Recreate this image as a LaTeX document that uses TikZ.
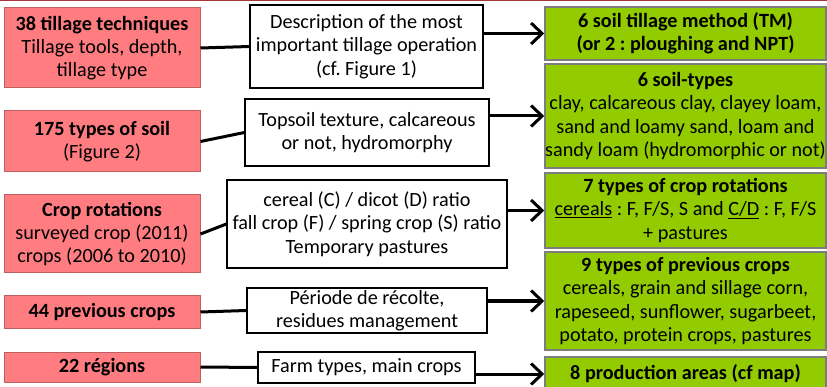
\documentclass[tikz,border=0pt]{standalone}
\usepackage{fontspec}
\setmainfont{Carlito}
\frenchspacing
\usepackage{tikz}
\usetikzlibrary{arrows.meta}

\definecolor{redfill}{RGB}{255,125,128}
\definecolor{redline}{RGB}{190,95,95}
\definecolor{greenfill}{RGB}{146,204,0}
\definecolor{greenline}{RGB}{125,125,125}
\definecolor{topline}{RGB}{165,55,60}

\tikzset{
  every node/.style={font=\fontsize{20.2}{23.3}\selectfont, align=center, inner sep=0pt},
  redbox/.style={draw=redline, fill=redfill, line width=1pt},
  whitebox/.style={draw=black, fill=white, line width=1.2pt},
  greenbox/.style={draw=greenline, fill=greenfill, line width=1.5pt},
  link/.style={line width=3pt},
  flow/.style={line width=3pt, -{Straight Barb[length=11pt,width=21pt]}}
}

\begin{document}
\begin{tikzpicture}[x=1pt, y=-1pt]
		\useasboundingbox (0,0) rectangle (827,387);
		\draw[topline, line width=1.5pt] (0,0.75) -- (827,0.75);
		% left column
		\node[redbox, minimum width=196pt, minimum height=80pt] (r1) at (102,48) {\textbf{38 tillage techniques}\\Tillage tools, depth,\\tillage type};
		\node[redbox, minimum width=196pt, minimum height=61pt] (r2) at (102,141.5) {\textbf{175 types of soil}\\(Figure 2)};
		\node[redbox, minimum width=196pt, minimum height=78pt] (r3) at (102,234) {\textbf{Crop rotations}\\surveyed crop (2011)\\crops (2006 to 2010)};
		\node[redbox, minimum width=196pt, minimum height=32pt] (r4) at (102,312) {\textbf{44 previous crops}};
		\node[redbox, minimum width=196pt, minimum height=30pt] (r5) at (102,367) {\textbf{22 régions}};
		% middle column
		\node[whitebox, minimum width=233pt, minimum height=83pt] (w1) at (366.5,46.5) {Description of the most\\important tillage operation\\(cf. Figure 1)};
		\node[whitebox, minimum width=244pt, minimum height=67pt] (w2) at (367,132.5) {Topsoil texture, calcareous\\or not, hydromorphy};
		\node[whitebox, minimum width=280pt, minimum height=88pt] (w3) at (367,224) {cereal (C) / dicot (D) ratio\\fall crop (F) / spring crop (S) ratio\\Temporary pastures};
		\node[whitebox, minimum width=240pt, minimum height=45pt] (w4) at (367,310.5) {Période de récolte,\\residues management};
		\node[whitebox, minimum width=217pt, minimum height=31pt] (w5) at (366.5,367.5) {Farm types, main crops};
		% right column
		\node[greenbox, minimum width=281pt, minimum height=53pt] (g1) at (685.5,33.5) {\textbf{6 soil tillage method (TM)}\\\textbf{(or 2 : ploughing and NPT)}};
		\node[greenbox, minimum width=281pt, minimum height=104pt] (g2) at (685.5,116) {\textbf{6 soil-types}\\clay, calcareous clay, clayey loam,\\sand and loamy sand, loam and\\sandy loam (hydromorphic or not)};
		\node[greenbox, minimum width=281pt, minimum height=75pt] (g3) at (685.5,210.5) {\textbf{7 types of crop rotations}\\\underline{cereals} : F, F/S, S and \underline{C/D} : F, F/S\\+ pastures};
		\node[greenbox, minimum width=281pt, minimum height=98pt] (g4) at (685.5,301) {\textbf{9 types of previous crops}\\cereals, grain and sillage corn,\\rapeseed, sunflower, sugarbeet,\\potato, protein crops, pastures};
		\node[greenbox, minimum width=281pt, minimum height=34pt] (g5) at (685.5,374) {\textbf{8 production areas (cf map)}};
		\foreach \i in {1,...,5}
			\draw[link] (r\i.east) -- (w\i.west);
		\foreach \i in {1,...,5}
			\draw[flow] (w\i.east |- g\i.west) -- (g\i.west);
	\end{tikzpicture}
\end{document}
